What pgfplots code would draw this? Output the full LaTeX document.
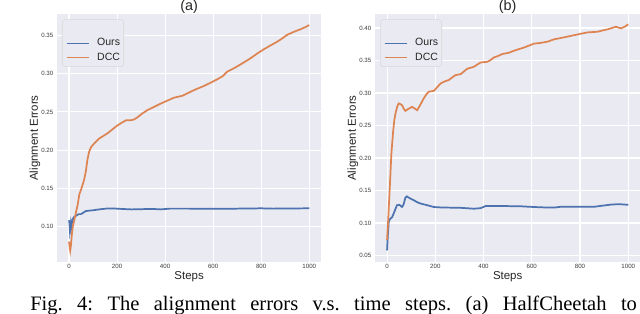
\documentclass[border=0pt]{standalone}
\usepackage{pgfplots}
\pgfplotsset{compat=1.18}
\usepackage{fontspec}
\setmainfont{Liberation Sans}
\newfontfamily\capfont{Liberation Serif}
\definecolor{bgcol}{HTML}{EAEAF2}
\definecolor{cblue}{HTML}{4C72B0}
\definecolor{corange}{HTML}{DD8452}
\definecolor{txt}{HTML}{262626}

\pgfplotsset{
 every axis title shift=0pt,
 mystyle/.style={
  scale only axis, height=186pt,
  anchor=south west,
  xmin=-50, xmax=1050,
  axis background/.style={fill=bgcol},
  axis line style={draw=none},
  major tick style={draw=none}, minor tick style={draw=none},
  grid=major, grid style={white, line width=0.8pt},
  xtick={0,200,...,1000},
  /pgf/number format/assume math mode=true,
  /pgf/number format/1000 sep={},
  tick label style={font=\fontsize{4.6}{5}\selectfont, text=txt!90},
  xticklabel style={anchor=north, inner sep=0pt, yshift=-1.8pt},
  yticklabel style={anchor=east, inner sep=0pt, xshift=-2.6pt, /pgf/number format/.cd, fixed, fixed zerofill, precision=2},
  xlabel={Steps}, ylabel={Alignment Errors},
  label style={font=\fontsize{8.6}{9}\selectfont, text=txt},
  xlabel style={at={([yshift=-10.8pt]axis description cs:0.5,0)}, anchor=center},
  ylabel style={at={([xshift=-16.5pt]axis description cs:0,0.5)}, anchor=center},
  title style={font=\fontsize{10.8}{12}\selectfont, text=txt, at={(axis description cs:0.5,1)}, anchor=south, inner sep=0pt, yshift=0.5pt},
  legend style={at={(axis description cs:0,1)}, anchor=north west, xshift=3.75pt, yshift=-4.1pt,
    fill=bgcol, draw=black!15, rounded corners=2pt, inner xsep=2.8pt, inner ysep=3pt, row sep=3.75pt,
    font=\fontsize{7.9}{9}\selectfont, text=txt,
    nodes={inner sep=0pt, text height=5.6pt, text depth=1.6pt},
    /tikz/every odd column/.append style={column sep=6pt}},
  legend cell align=left,
  legend image code/.code={\draw[#1, line width=0.9pt] (0pt,0pt) -- (16.5pt,0pt);},
 }
}

\begin{document}
\begin{tikzpicture}
\useasboundingbox (0,0) rectangle (480pt,235.5pt);
\clip (0,0) rectangle (480pt,235.5pt);
\fill[white] (0,0) rectangle (480pt,235.5pt);

% ---------- (a) ----------
\begin{axis}[mystyle, at={(42.75pt,39pt)}, width=198.2pt,
  ymin=0.0532, ymax=0.3785, ytick={0.10,0.15,...,0.36}, title={(a)}]
\addlegendimage{empty legend}\addlegendentry{}
\addplot[cblue, line width=1.3pt] coordinates {
(0,0.108)(2,0.104)(4,0.093)(6,0.097)(8,0.104)(10,0.100)(14,0.108)(20,0.112)(30,0.114)(40,0.116)(50,0.116)(60,0.118)(70,0.120)(84,0.1206)(100,0.121)(120,0.122)(153,0.1232)(180,0.1235)(220,0.1228)(260,0.1222)(300,0.1225)(350,0.1228)(380,0.1222)(420,0.1232)(500,0.1232)(600,0.1230)(700,0.1232)(800,0.1236)(850,0.1232)(900,0.1234)(1000,0.1236)
};
\addlegendentry{Ours}
\addplot[corange, line width=1.3pt] coordinates {
(0,0.080)(3,0.072)(5,0.068)(8,0.075)(12,0.090)(16,0.100)(22,0.108)(30,0.120)(36,0.128)(43,0.142)(50,0.148)(57,0.155)(63,0.161)(70,0.172)(77,0.188)(84,0.198)(92,0.204)(100,0.207)(112,0.211)(125,0.215)(140,0.218)(160,0.222)(180,0.227)(200,0.232)(220,0.236)(237,0.239)(257,0.2392)(270,0.240)(285,0.243)(305,0.248)(327,0.2525)(350,0.256)(382,0.261)(410,0.265)(437,0.2687)(472,0.2713)(490,0.274)(506,0.2765)(530,0.280)(561,0.284)(590,0.2885)(617,0.2928)(640,0.297)(658,0.3028)(686,0.3072)(720,0.3135)(755,0.3203)(785,0.327)(811,0.3322)(840,0.3375)(866,0.342)(890,0.347)(907,0.351)(935,0.355)(963,0.3584)(985,0.3615)(1000,0.364)
};
\addlegendentry{DCC}
\end{axis}

% ---------- (b) ----------
\begin{axis}[mystyle, at={(281.25pt,39pt)}, width=199pt,
  ymin=0.040, ymax=0.4216, ytick={0.05,0.10,...,0.41}, title={(b)}]
\addlegendimage{empty legend}\addlegendentry{}
\addplot[cblue, line width=1.3pt] coordinates {
(0,0.058)(3,0.080)(7,0.102)(12,0.106)(21,0.109)(30,0.117)(41,0.1273)(50,0.128)(55,0.127)(62,0.1246)(68,0.128)(76,0.139)(82,0.141)(90,0.139)(100,0.137)(111,0.135)(125,0.132)(138,0.130)(160,0.128)(194,0.1246)(220,0.124)(249,0.1237)(300,0.1235)(360,0.122)(388,0.1229)(409,0.1262)(450,0.126)(499,0.126)(550,0.1258)(609,0.1246)(650,0.124)(692,0.1237)(720,0.125)(800,0.125)(859,0.125)(900,0.127)(928,0.1283)(960,0.129)(1000,0.128)
};
\addlegendentry{Ours}
\addplot[corange, line width=1.3pt] coordinates {
(0,0.074)(4,0.10)(8,0.13)(12,0.16)(18,0.207)(25,0.24)(30,0.258)(35,0.2685)(42,0.279)(48,0.284)(55,0.283)(62,0.2813)(69,0.276)(76,0.2726)(90,0.276)(104,0.2787)(115,0.276)(125,0.2736)(138,0.282)(152,0.2917)(163,0.298)(173,0.302)(194,0.3034)(208,0.309)(222,0.3148)(240,0.318)(256,0.32)(270,0.324)(284,0.3276)(305,0.329)(318,0.333)(332,0.3373)(360,0.3404)(375,0.344)(388,0.347)(416,0.348)(430,0.351)(443,0.3548)(460,0.357)(478,0.360)(505,0.362)(533,0.366)(568,0.370)(609,0.376)(635,0.377)(665,0.379)(692,0.3826)(734,0.3857)(776,0.389)(800,0.391)(831,0.3933)(873,0.3943)(890,0.396)(914,0.398)(949,0.402)(960,0.4005)(970,0.3995)(985,0.402)(1000,0.4057)
};
\addlegendentry{DCC}
\end{axis}

\node[anchor=base west, inner sep=0pt, font=\capfont\fontsize{15.4}{17}\selectfont] at (22.5pt,2.5pt)
  {\frenchspacing\makebox[455pt][s]{Fig. 4: The alignment errors v.s. time steps. (a) HalfCheetah to}};
\end{tikzpicture}
\end{document}
